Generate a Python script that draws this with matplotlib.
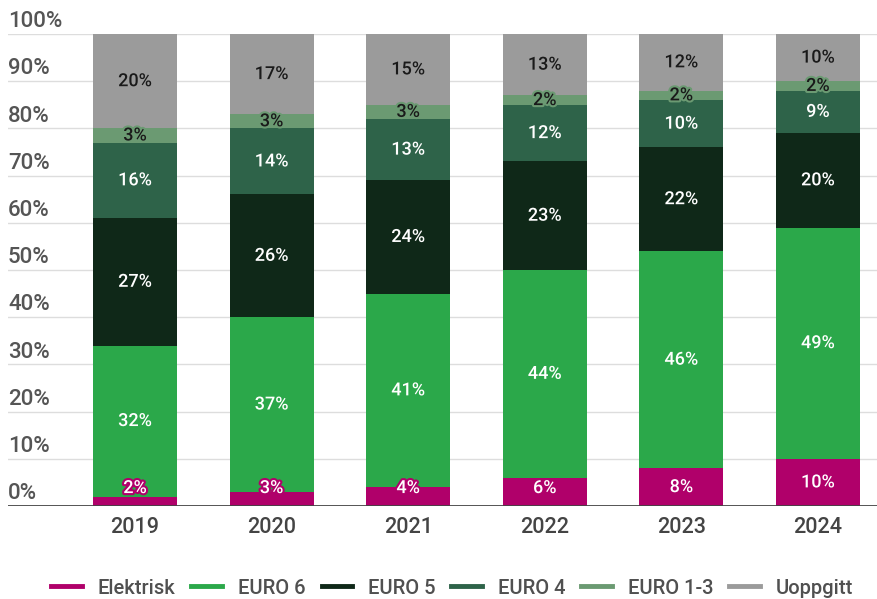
import matplotlib
matplotlib.use('Agg')
import matplotlib.pyplot as plt
import matplotlib.patheffects as pe
from matplotlib.lines import Line2D
import numpy as np

plt.rcParams['font.family']=['Roboto','DejaVu Sans']

years=['2019','2020','2021','2022','2023','2024']
series=['Elektrisk','EURO 6','EURO 5','EURO 4','EURO 1-3','Uoppgitt']
elektrisk=[2,3,4,6,8,10]
euro6=[32,37,41,44,46,49]
euro5=[27,26,24,23,22,20]
euro4=[16,14,13,12,10,9]
euro13=[3,3,3,2,2,2]
uoppgitt=[20,17,15,13,12,10]
yticks=[0,10,20,30,40,50,60,70,80,90,100]

colors=['#b0006a','#2ba84a','#0f2818','#2e6349','#6b9a72','#9b9b9b']
txtcol=['white','white','white','white','#1a1a1a','#1a1a1a']
data=[elektrisk,euro6,euro5,euro4,euro13,uoppgitt]

fig=plt.figure(figsize=(8.78,5.99),dpi=100)
ax=fig.add_axes([8/878,1-506/599,870/878,472/599])
x=np.arange(len(years))
bottom=np.zeros(len(years))
for name,vals,c,tc in zip(series,data,colors,txtcol):
    vals=np.array(vals,dtype=float)
    ax.bar(x,vals,0.615,bottom=bottom,color=c,label=name,zorder=2)
    for xi,b,v in zip(x,bottom,vals):
        yc=max(b+v/2,3.8)
        ax.text(xi,yc,f'{int(v)}%',ha='center',va='center',fontsize=13,color=tc,
                fontweight='medium',zorder=4,
                path_effects=[pe.withStroke(linewidth=3,foreground=c)])
    bottom+=vals

ax.set_xlim(-0.93,5.44); ax.set_ylim(0,100)
for t in yticks[1:]:
    ax.axhline(t,color='#dddddd',lw=1,zorder=1)
for t in yticks:
    ax.text(0,t+0.4,f'{t}%',transform=ax.get_yaxis_transform(),ha='left',va='bottom',
            fontsize=16,color='#555555',fontweight='medium')
ax.axhline(0,color='#444444',lw=2,zorder=3)
for s in ax.spines.values(): s.set_visible(False)
ax.set_yticks([])
ax.set_xticks(x); ax.set_xticklabels(years,fontsize=15.5,color='#444444',fontweight='medium')
ax.tick_params(axis='x',length=0,pad=8)

handles=[Line2D([0],[0],color=c,lw=3.5) for c in colors]
leg=fig.legend(handles,series,loc='center',bbox_to_anchor=(0.515,1-588/599),ncol=6,frameon=False,
               prop={'size':14.5,'weight':'medium'},handlelength=1.5,columnspacing=0.8,handletextpad=0.8)
for t in leg.get_texts(): t.set_color('#505050')
fig.savefig('out.png',dpi=100)
